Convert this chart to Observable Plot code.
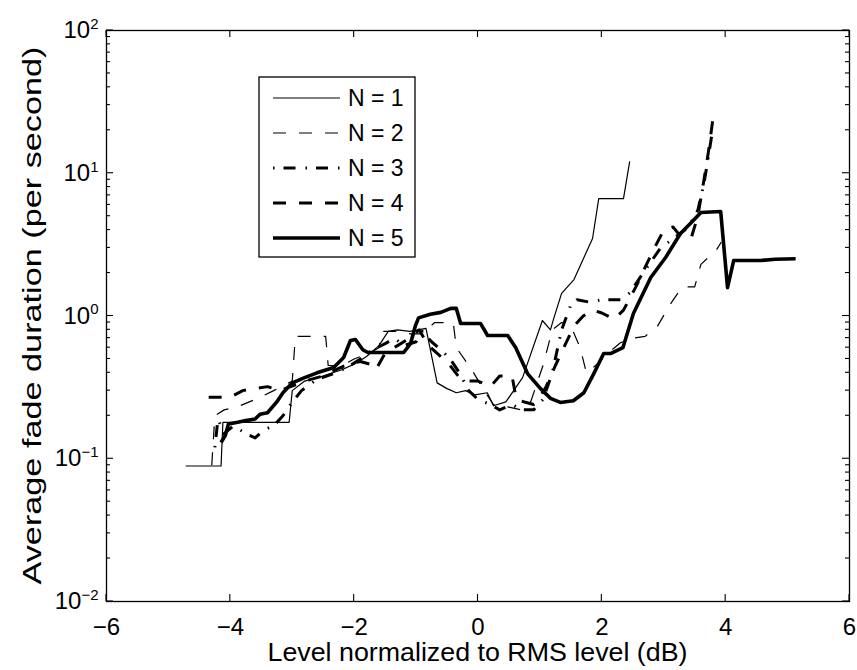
<!DOCTYPE html>
<html><head><meta charset="utf-8">
<script src="https://cdn.jsdelivr.net/npm/d3@7"></script>
<script src="https://cdn.jsdelivr.net/npm/@observablehq/plot@0.6"></script>
<style>body{margin:0;background:#fff;} svg{display:block}</style>
</head><body><div id="chart"></div>
<script>
// ---- data (x: level in dB, y: average fade duration per second) ----
const xTicks = [-6, -4, -2, 0, 2, 4, 6];
const yTicks = [0.01, 0.1, 1, 10, 100];
const seriesNames = ["N = 1", "N = 2", "N = 3", "N = 4", "N = 5"];

const n1 = [[-4.72,0.089],[-4.15,0.089],[-4.12,0.18],[-3.05,0.18],[-3.0,0.30],[-2.8,0.35],[-2.5,0.38],[-2.2,0.42],[-2.0,0.46],[-1.8,0.52],[-1.6,0.62],[-1.45,0.78],[-1.3,0.80],[-1.1,0.78],[-0.84,0.82],[-0.66,0.34],[-0.5,0.31],[-0.35,0.29],[-0.2,0.30],[-0.05,0.28],[0.15,0.29],[0.25,0.235],[0.45,0.25],[0.72,0.37],[1.04,0.93],[1.17,0.80],[1.22,0.95],[1.35,1.44],[1.55,1.80],[1.85,3.49],[1.95,6.65],[2.35,6.65],[2.45,12.1]];

const n2 = [[-4.3,0.09],[-4.25,0.2],[-4.1,0.22],[-3.9,0.23],[-3.6,0.26],[-3.3,0.3],[-3.0,0.35],[-2.95,0.72],[-2.46,0.72],[-2.42,0.45],[-2.2,0.45],[-2.0,0.5],[-1.75,0.55],[-1.6,0.6],[-1.55,0.78],[-1.25,0.78],[-1.1,0.75],[-0.9,0.75],[-0.7,0.9],[-0.4,0.9],[-0.35,0.6],[-0.1,0.42],[0.1,0.3],[0.25,0.24],[0.5,0.23],[0.7,0.22],[0.85,0.25],[1.05,0.45],[1.2,0.8],[1.35,0.9],[1.5,0.85],[1.65,0.6],[1.75,0.4],[1.9,0.45],[2.1,0.55],[2.3,0.65],[2.5,0.70],[2.7,0.72],[2.9,0.85],[3.1,1.2],[3.3,1.6],[3.5,1.6],[3.6,2.3],[3.85,2.9],[3.93,3.3]];

const n3 = [[-4.25,0.12],[-4.2,0.19],[-4.1,0.15],[-3.95,0.17],[-3.75,0.15],[-3.6,0.14],[-3.45,0.16],[-3.3,0.17],[-3.15,0.2],[-3.0,0.25],[-2.85,0.3],[-2.6,0.36],[-2.3,0.4],[-2.1,0.44],[-1.9,0.5],[-1.7,0.58],[-1.5,0.64],[-1.35,0.7],[-1.2,0.62],[-1.0,0.66],[-0.9,0.78],[-0.75,0.66],[-0.6,0.58],[-0.45,0.5],[-0.3,0.4],[-0.15,0.3],[0.0,0.26],[0.2,0.24],[0.35,0.22],[0.55,0.24],[0.7,0.22],[0.9,0.22],[1.05,0.26],[1.2,0.4],[1.35,0.8],[1.5,1.2],[1.6,1.3],[1.8,1.25],[2.0,1.3],[2.3,1.3],[2.45,1.45],[2.7,2.1],[2.95,3.0],[3.2,3.6],[3.4,4.2],[3.55,5.5],[3.65,8.5],[3.72,13],[3.78,19]];

const n4 = [[-4.35,0.27],[-4.0,0.27],[-3.8,0.30],[-3.6,0.31],[-3.4,0.32],[-3.2,0.30],[-2.95,0.33],[-2.7,0.36],[-2.5,0.38],[-2.3,0.42],[-2.1,0.46],[-1.9,0.48],[-1.75,0.46],[-1.65,0.42],[-1.5,0.55],[-1.3,0.62],[-1.1,0.7],[-0.95,0.8],[-0.8,0.62],[-0.6,0.52],[-0.45,0.45],[-0.3,0.37],[-0.15,0.35],[0.0,0.35],[0.2,0.32],[0.35,0.38],[0.55,0.38],[0.62,0.26],[0.75,0.25],[0.9,0.24],[1.0,0.27],[1.1,0.32],[1.25,0.45],[1.4,0.62],[1.55,0.85],[1.7,1.0],[1.85,1.1],[2.0,1.05],[2.2,0.95],[2.35,1.1],[2.55,1.6],[2.7,2.2],[2.85,3.0],[3.0,4.0],[3.15,4.2],[3.3,3.5],[3.45,3.6],[3.55,5.0],[3.65,9],[3.72,14],[3.8,25]];

const n5 = [[-4.15,0.13],[-4.08,0.146],[-4.03,0.175],[-3.88,0.18],[-3.75,0.185],[-3.6,0.19],[-3.52,0.205],[-3.4,0.21],[-3.25,0.25],[-3.15,0.29],[-3.0,0.34],[-2.8,0.37],[-2.6,0.40],[-2.33,0.436],[-2.17,0.512],[-2.06,0.674],[-1.98,0.685],[-1.86,0.58],[-1.78,0.555],[-1.2,0.555],[-1.09,0.64],[-1.01,0.857],[-0.96,0.97],[-0.77,1.03],[-0.6,1.06],[-0.44,1.13],[-0.35,1.13],[-0.28,0.887],[0.04,0.887],[0.155,0.73],[0.48,0.73],[0.61,0.60],[0.8,0.395],[1.01,0.31],[1.17,0.265],[1.33,0.248],[1.54,0.255],[1.71,0.29],[1.87,0.395],[2.03,0.546],[2.14,0.546],[2.34,0.60],[2.51,1.04],[2.79,1.86],[3.03,2.57],[3.27,3.78],[3.43,4.44],[3.6,5.31],[3.92,5.39],[4.03,1.58],[4.13,2.45],[4.57,2.45],[4.8,2.5],[5.13,2.52]];

const series = [n1, n2, n3, n4, n5];

// ---- styles ----
const lineStyles = [
  {w: 1.2, dash: null},
  {w: 1.2, dash: "13,13"},
  {w: 3, dash: "1.5,9,12,10"},
  {w: 3, dash: "13,13"},
  {w: 3.6, dash: null}
];
const FONT = "'Liberation Sans', Arial, Helvetica, sans-serif";
const sup = {"-2": "\u22122", "-1": "\u22121", "0": "0", "1": "1", "2": "2"};

const marks = [];
series.forEach((s, i) => {
  const st = lineStyles[i];
  marks.push(Plot.line(s, {x: d => d[0], y: d => d[1], stroke: "black", strokeWidth: st.w,
    strokeDasharray: st.dash || undefined, strokeLinejoin: "round", strokeLinecap: "butt"}));
});
marks.push(Plot.axisX({ticks: xTicks, tickSize: 0, tickPadding: 16, fontSize: 24, tickFormat: d3.format("d")}));
marks.push(Plot.axisY({ticks: yTicks, tickSize: 0, tickPadding: 8, fontSize: 24,
  tickFormat: d => "10^" + sup[String(Math.round(Math.log10(d)))]}));
marks.push(Plot.frame({stroke: "black", strokeWidth: 1.3}));

const plot = Plot.plot({
  width: 857, height: 670,
  marginLeft: 106, marginRight: 8, marginTop: 30, marginBottom: 69,
  style: {fontFamily: FONT, background: "white", color: "black"},
  x: {domain: [-6, 6], label: null},
  y: {type: "log", domain: [0.01, 100], label: null},
  marks
});
document.getElementById("chart").appendChild(plot);

const svg = d3.select(plot);
// superscript exponents
svg.selectAll('g[aria-label="y-axis tick label"] text').each(function() {
  const parts = this.textContent.split("^");
  this.textContent = parts[0];
  d3.select(this).append("tspan").attr("dy", "-0.62em").attr("font-size", "15px").text(parts[1]);
});
svg.selectAll('g[aria-label="x-axis tick label"] text, g[aria-label="y-axis tick label"] text').attr("fill", "black");

// inward ticks using the plot's scales
const sx = plot.scale("x"), sy = plot.scale("y");
const X = v => sx.apply(v), Y = v => sy.apply(v);
const L = X(-6), R = X(6), T = Y(100), B = Y(0.01);
const tg = svg.append("g").attr("stroke", "black").attr("stroke-width", 1.1);
for (const t of xTicks) {
  tg.append("line").attr("x1", X(t)).attr("x2", X(t)).attr("y1", B).attr("y2", B - 7);
  tg.append("line").attr("x1", X(t)).attr("x2", X(t)).attr("y1", T).attr("y2", T + 7);
}
for (let k = -2; k <= 2; k++) {
  const v = Math.pow(10, k);
  tg.append("line").attr("x1", L).attr("x2", L + 7).attr("y1", Y(v)).attr("y2", Y(v));
  tg.append("line").attr("x1", R).attr("x2", R - 7).attr("y1", Y(v)).attr("y2", Y(v));
  if (k < 2) for (let m = 2; m <= 9; m++) {
    const mv = m * v;
    tg.append("line").attr("x1", L).attr("x2", L + 4).attr("y1", Y(mv)).attr("y2", Y(mv));
    tg.append("line").attr("x1", R).attr("x2", R - 4).attr("y1", Y(mv)).attr("y2", Y(mv));
  }
}

// axis titles
svg.append("text").attr("x", (L + R) / 2).attr("y", 661).attr("text-anchor", "middle")
  .attr("font-family", FONT).attr("font-size", 25).attr("fill", "black")
  .attr("textLength", 420).attr("lengthAdjust", "spacingAndGlyphs")
  .text("Level normalized to RMS level (dB)");
svg.append("text").attr("transform", `translate(41,${(T + B) / 2}) rotate(-90)`).attr("text-anchor", "middle")
  .attr("font-family", FONT).attr("font-size", 25).attr("fill", "black")
  .attr("textLength", 538).attr("lengthAdjust", "spacingAndGlyphs")
  .text("Average fade duration (per second)");

// legend
const lg = svg.append("g").attr("text-anchor", "start");
const lx = 259, ly = 77, rowH = 35;
lg.append("rect").attr("x", lx).attr("y", ly).attr("width", 156).attr("height", 180)
  .attr("fill", "white").attr("stroke", "black").attr("stroke-width", 1.3);
seriesNames.forEach((name, i) => {
  const y = ly + 21 + i * rowH;
  const st = lineStyles[i];
  const ln = lg.append("line").attr("x1", lx + 14).attr("x2", lx + 81).attr("y1", y).attr("y2", y)
    .attr("stroke", "black").attr("stroke-width", st.w);
  if (st.dash) ln.attr("stroke-dasharray", st.dash);
  lg.append("text").attr("x", lx + 89).attr("y", y + 8).attr("text-anchor", "start")
    .attr("font-family", FONT).attr("font-size", 23).attr("fill", "black").text(name);
});
</script>
</body></html>
